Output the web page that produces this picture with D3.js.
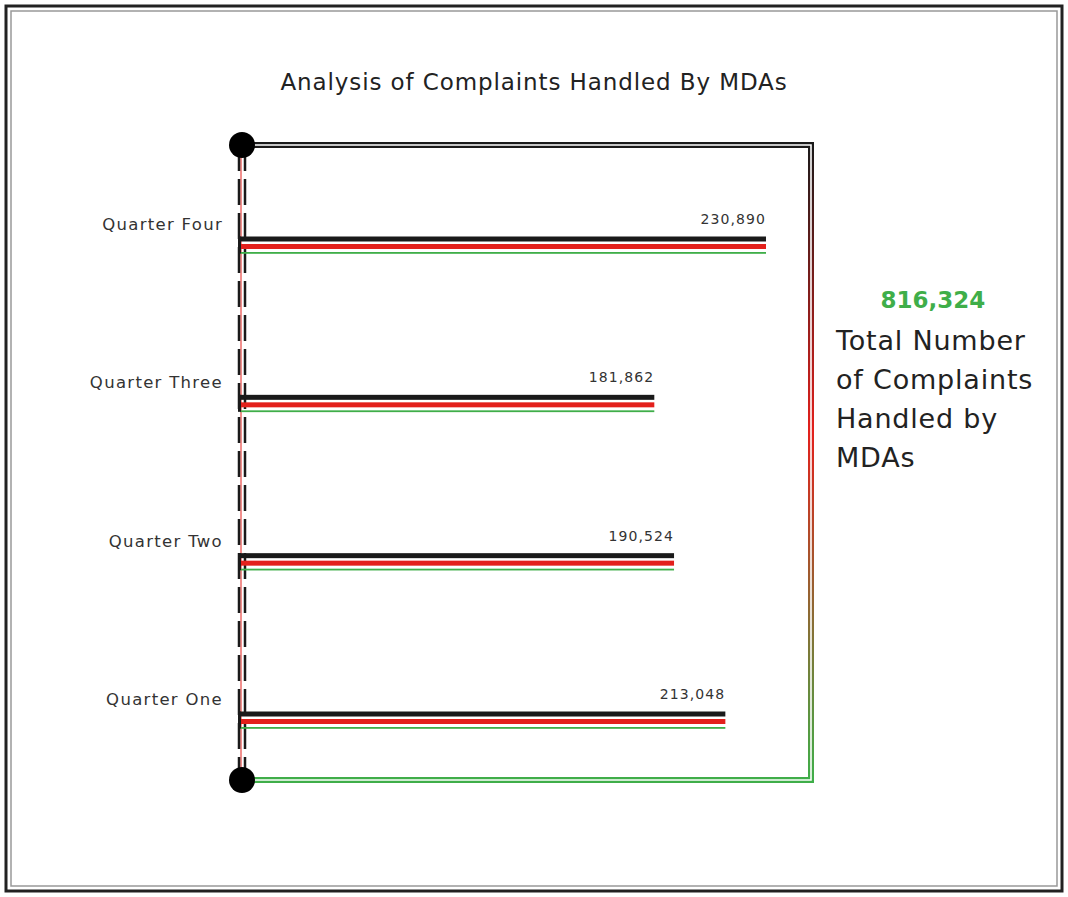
<!DOCTYPE html>
<html>
<head>
<meta charset="utf-8">
<script src="https://cdn.jsdelivr.net/npm/d3@7"></script>
<style>
  body { margin: 0; background: #fff; }
  svg { display: block; font-family: "DejaVu Sans", sans-serif; }
</style>
</head>
<body>
<svg width="1068" height="897"></svg>
<script>
let quarters = ["Quarter Four", "Quarter Three", "Quarter Two", "Quarter One"];
let complaints = [230890, 181862, 190524, 213048];
let totalLabel = "816,324";
let totalText = ["Total Number", "of Complaints", "Handled by", "MDAs"];

const black = "#1a1a1a", red = "#e3201c", green = "#3fae49";

let svg = d3.select("svg");

// outer double frame
svg.append("rect").attr("x", 6).attr("y", 6).attr("width", 1056).attr("height", 885)
  .attr("fill", "none").attr("stroke", "#222").attr("stroke-width", 3);
svg.append("rect").attr("x", 11).attr("y", 11).attr("width", 1046).attr("height", 875)
  .attr("fill", "none").attr("stroke", "#999").attr("stroke-width", 1.5);

svg.append("text").attr("x", 534).attr("y", 90)
  .attr("text-anchor", "middle").attr("font-size", 23).attr("fill", "#222")
  .attr("letter-spacing", 0.9)
  .text("Analysis of Complaints Handled By MDAs");

let x = d3.scaleLinear().domain([0, d3.max(complaints)]).range([240, 766]);
let y = d3.scalePoint().domain(quarters).range([239, 714]);

let frameTop = 145, frameBottom = 780, axisX = 242, rightX = 811;

// gradient for the connector frame
let grad = svg.append("defs").append("linearGradient")
  .attr("id", "frameGrad").attr("gradientUnits", "userSpaceOnUse")
  .attr("x1", 0).attr("y1", frameTop).attr("x2", 0).attr("y2", frameBottom);
grad.append("stop").attr("offset", "0%").attr("stop-color", black);
grad.append("stop").attr("offset", "45%").attr("stop-color", red);
grad.append("stop").attr("offset", "100%").attr("stop-color", green);

let framePath = "M" + axisX + "," + frameTop + "H" + rightX + "V" + frameBottom + "H" + axisX;
svg.append("path").attr("d", framePath).attr("fill", "none")
  .attr("stroke", "url(#frameGrad)").attr("stroke-width", 6);
svg.append("path").attr("d", framePath).attr("fill", "none")
  .attr("stroke", "#fff").attr("stroke-width", 1.6);

// left dashed axis
svg.append("line").attr("x1", 241).attr("x2", 241).attr("y1", frameTop).attr("y2", frameBottom)
  .attr("stroke", red).attr("stroke-width", 1);
[239, 245].forEach(function(xx) {
  svg.append("line").attr("x1", xx).attr("x2", xx).attr("y1", frameTop).attr("y2", frameBottom)
    .attr("stroke", black).attr("stroke-width", 2.5)
    .attr("stroke-dasharray", "26,8");
});

// bars in flag stripes
let bars = svg.selectAll(".bar").data(quarters).enter().append("g").attr("class", "bar");
bars.append("rect").attr("x", x(0)).attr("y", d => y(d) - 2.5)
  .attr("width", (d, i) => x(complaints[i]) - x(0)).attr("height", 5).attr("fill", black);
bars.append("rect").attr("x", x(0)).attr("y", d => y(d) + 5)
  .attr("width", (d, i) => x(complaints[i]) - x(0)).attr("height", 5).attr("fill", red);
bars.append("rect").attr("x", x(0)).attr("y", d => y(d) + 13)
  .attr("width", (d, i) => x(complaints[i]) - x(0)).attr("height", 1.8).attr("fill", green);
bars.append("rect").attr("x", x(0) - 2).attr("y", d => y(d) - 2.5)
  .attr("width", 3).attr("height", 17).attr("fill", black);

bars.append("text").attr("x", (d, i) => x(complaints[i])).attr("y", d => y(d) - 15)
  .attr("text-anchor", "end").attr("font-size", 14).attr("fill", "#333")
  .attr("letter-spacing", 1.1)
  .text((d, i) => d3.format(",")(complaints[i]));

bars.append("text").attr("x", 223).attr("y", d => y(d) - 9)
  .attr("text-anchor", "end").attr("font-size", 16.5).attr("fill", "#333")
  .attr("letter-spacing", 1.3)
  .text(d => d);

// end dots
[frameTop, frameBottom].forEach(function(yy) {
  svg.append("circle").attr("cx", axisX).attr("cy", yy).attr("r", 13).attr("fill", "#000");
});

// total block
svg.append("text").attr("x", 933).attr("y", 308).attr("text-anchor", "middle")
  .attr("font-size", 23).attr("font-weight", "bold").attr("fill", green)
  .text(totalLabel);
svg.selectAll(".tot").data(totalText).enter().append("text").attr("class", "tot")
  .attr("x", 836).attr("y", (d, i) => 350 + i * 39)
  .attr("font-size", 27).attr("fill", "#222")
  .attr("letter-spacing", 0.8)
  .text(d => d);
</script>
</body>
</html>
